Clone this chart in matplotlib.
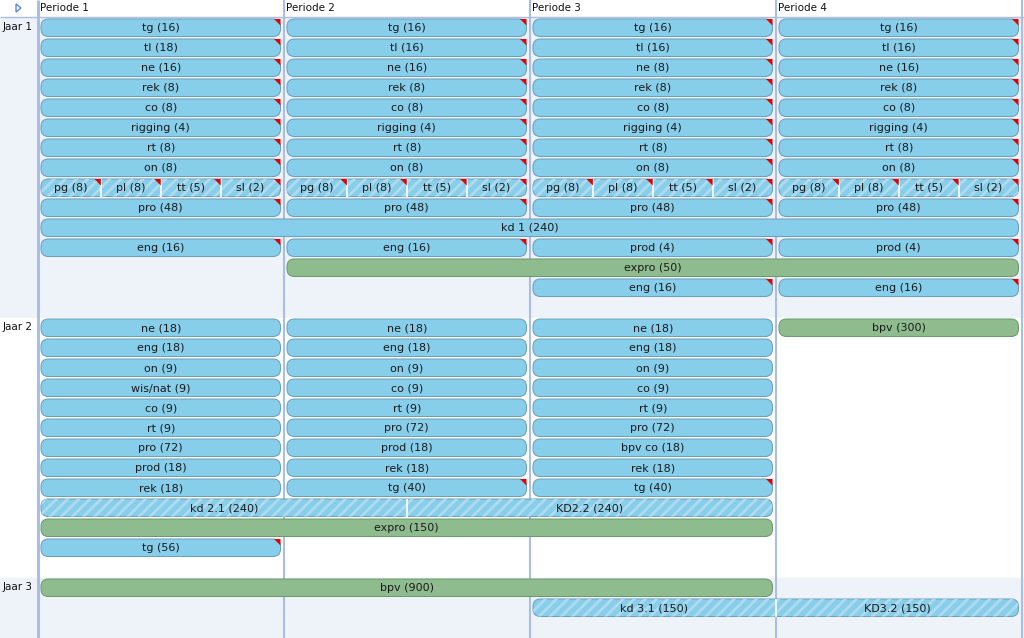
import matplotlib.pyplot as plt
from matplotlib.patches import FancyBboxPatch, Rectangle, Polygon

periodes = ['Periode 1', 'Periode 2', 'Periode 3', 'Periode 4']
jaren = ['Jaar 1', 'Jaar 2', 'Jaar 3']

# one list per rij: (vak, uren, eerste periode, laatste periode, notitie)
# a vak given as a tuple is a gedeeld blok (equal parts, hatched)
jaar1 = [
    [('tg', 16, 1, 1, 1), ('tg', 16, 2, 2, 1), ('tg', 16, 3, 3, 1), ('tg', 16, 4, 4, 1)],
    [('tl', 18, 1, 1, 1), ('tl', 16, 2, 2, 1), ('tl', 16, 3, 3, 1), ('tl', 16, 4, 4, 1)],
    [('ne', 16, 1, 1, 1), ('ne', 16, 2, 2, 1), ('ne', 8, 3, 3, 1), ('ne', 16, 4, 4, 1)],
    [('rek', 8, 1, 1, 1), ('rek', 8, 2, 2, 1), ('rek', 8, 3, 3, 1), ('rek', 8, 4, 4, 1)],
    [('co', 8, 1, 1, 1), ('co', 8, 2, 2, 1), ('co', 8, 3, 3, 1), ('co', 8, 4, 4, 1)],
    [('rigging', 4, 1, 1, 1), ('rigging', 4, 2, 2, 1), ('rigging', 4, 3, 3, 1), ('rigging', 4, 4, 4, 1)],
    [('rt', 8, 1, 1, 1), ('rt', 8, 2, 2, 1), ('rt', 8, 3, 3, 1), ('rt', 8, 4, 4, 1)],
    [('on', 8, 1, 1, 1), ('on', 8, 2, 2, 1), ('on', 8, 3, 3, 1), ('on', 8, 4, 4, 1)],
    [(('pg', 'pl', 'tt', 'sl'), (8, 8, 5, 2), p, p, 1) for p in (1, 2, 3, 4)],
    [('pro', 48, 1, 1, 1), ('pro', 48, 2, 2, 1), ('pro', 48, 3, 3, 1), ('pro', 48, 4, 4, 1)],
    [('kd 1', 240, 1, 4, 0)],
    [('eng', 16, 1, 1, 1), ('eng', 16, 2, 2, 1), ('prod', 4, 3, 3, 1), ('prod', 4, 4, 4, 1)],
    [('expro', 50, 2, 4, 0)],
    [('eng', 16, 3, 3, 1), ('eng', 16, 4, 4, 1)],
]

jaar2 = [
    [('ne', 18, 1, 1, 0), ('ne', 18, 2, 2, 0), ('ne', 18, 3, 3, 0), ('bpv', 300, 4, 4, 0)],
    [('eng', 18, 1, 1, 0), ('eng', 18, 2, 2, 0), ('eng', 18, 3, 3, 0)],
    [('on', 9, 1, 1, 0), ('on', 9, 2, 2, 0), ('on', 9, 3, 3, 0)],
    [('wis/nat', 9, 1, 1, 0), ('co', 9, 2, 2, 0), ('co', 9, 3, 3, 0)],
    [('co', 9, 1, 1, 0), ('rt', 9, 2, 2, 0), ('rt', 9, 3, 3, 0)],
    [('rt', 9, 1, 1, 0), ('pro', 72, 2, 2, 0), ('pro', 72, 3, 3, 0)],
    [('pro', 72, 1, 1, 0), ('prod', 18, 2, 2, 0), ('bpv co', 18, 3, 3, 0)],
    [('prod', 18, 1, 1, 0), ('rek', 18, 2, 2, 0), ('rek', 18, 3, 3, 0)],
    [('rek', 18, 1, 1, 0), ('tg', 40, 2, 2, 1), ('tg', 40, 3, 3, 1)],
    [(('kd 2.1', 'KD2.2'), (240, 240), 1, 3, 0)],
    [('expro', 150, 1, 3, 0)],
    [('tg', 56, 1, 1, 1)],
]

jaar3 = [
    [('bpv', 900, 1, 3, 0)],
    [(('kd 3.1', 'KD3.2'), (150, 150), 3, 4, 0)],
]

stages = ['expro', 'bpv']

# pixel helpers: 246 px per periode, 20 px per rij
PX = 1 / 246.0
PY = 1 / 20.0

blauw = '#87ceeb'
blauw_rand = '#6f9fbe'
groen = '#8fbc8f'
groen_rand = '#6e9a6e'
streep = '#b0dbef'
lijn = '#a9bee0'
licht = '#eef3fa'

plt.rcParams['hatch.linewidth'] = 2.0

fig = plt.figure(figsize=(10.24, 6.38), dpi=100)
ax = fig.add_axes([0, 0, 1, 1])
x_links = -37.5 * PX
x_rechts = 4 + 2.5 * PX
ax.set_xlim(x_links, x_rechts)
ax.set_ylim(31, -0.9)
ax.axis('off')

# achtergrond
ax.add_patch(Rectangle((x_links, -0.9), x_rechts - x_links, 0.9, color='white', zorder=0))
start = 0
jaar_start = []
for i, rijen in enumerate([jaar1, jaar2, jaar3]):
    n = len(rijen) + 1
    jaar_start.append(start)
    kleur = licht if i % 2 == 0 else 'white'
    ax.add_patch(Rectangle((x_links, start), x_rechts - x_links, n, color=kleur, zorder=0))
    start += n

ax.vlines([1, 2, 3, 4], -0.9, 31, color=lijn, lw=1.5, zorder=1)
ax.vlines([0], -0.9, 31, color=lijn, lw=2.2, zorder=1)
ax.hlines(-1 * PY, x_links, x_rechts, color=lijn, lw=1.0, zorder=1)

# kop
for p, naam in enumerate(periodes):
    ax.text(p + 2 * PX, -10 * PY, naam, ha='left', va='center', fontsize=7.5, color='#111111')
ax.add_patch(Polygon([(-21.5 * PX, -14 * PY), (-21.5 * PX, -6 * PY), (-16.5 * PX, -10 * PY)],
                     closed=True, facecolor='white', edgecolor='#4a7fd6', lw=0.9, zorder=3))


def balk(y, vak, uren, van, tot, notitie):
    delen = list(vak) if isinstance(vak, tuple) else [vak]
    uur = list(uren) if isinstance(uren, tuple) else [uren]
    gedeeld = len(delen) > 1
    x0 = van - 1 + 3.5 * PX
    x1 = tot - 3 * PX
    top = y + 1 * PY
    h = 17.5 * PY
    if vak in stages:
        fc, ec = groen, groen_rand
    else:
        fc, ec = blauw, blauw_rand
    stijl = 'round,pad=0,rounding_size=%f' % (7.5 * PX)
    ax.add_patch(FancyBboxPatch((x0, top), x1 - x0, h, boxstyle=stijl,
                                mutation_aspect=PY / PX, facecolor=fc, edgecolor=ec,
                                lw=0.75, zorder=2))
    if gedeeld:
        ax.add_patch(FancyBboxPatch((x0, top), x1 - x0, h, boxstyle=stijl,
                                    mutation_aspect=PY / PX, fill=False, edgecolor=streep,
                                    lw=0, hatch='///', zorder=3))
    w = (x1 - x0) / len(delen)
    for k, (d, u) in enumerate(zip(delen, uur)):
        a = x0 + k * w
        b = a + w
        if k > 0:
            ax.vlines(a, top, top + h, color='white', lw=1.2, zorder=4)
        if notitie:
            ax.add_patch(Polygon([(b, top), (b - 6.5 * PX, top), (b, top + 6.5 * PY)],
                                 closed=True, color='#e30000', lw=0, zorder=5))
        ax.text((a + b) / 2, y + 0.5, '%s (%d)' % (d, u), ha='center', va='center',
                fontsize=8, color='#1a1a1a', zorder=6)


for naam, s, rijen in zip(jaren, jaar_start, [jaar1, jaar2, jaar3]):
    ax.text(-4.5 * PX, s + 8.5 * PY, naam, ha='right', va='center', fontsize=7.5, color='#111111')
    for r, rij in enumerate(rijen):
        for vak, uren, van, tot, notitie in rij:
            balk(s + r, vak, uren, van, tot, notitie)

fig.savefig('out.png', dpi=100)
